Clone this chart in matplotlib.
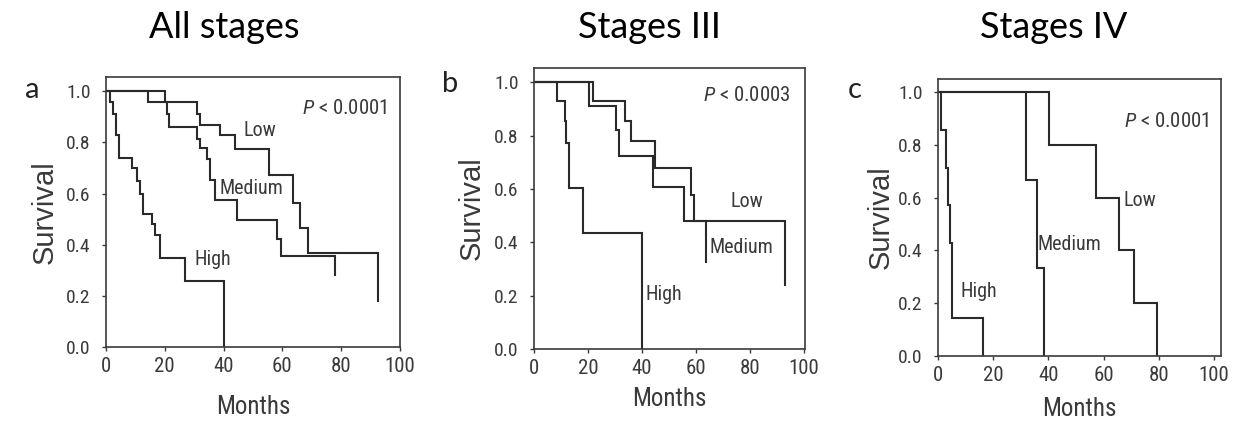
import matplotlib
matplotlib.use("Agg")
import matplotlib.pyplot as plt

# Kaplan-Meier step data: (month of step, survival after step)
a_low_t = [0, 20.0, 30.8, 31.9, 38.8, 43.9, 55.5, 63.7, 66.0, 68.8, 92.6]
a_low_s = [1.0, 0.957, 0.91, 0.87, 0.83, 0.776, 0.672, 0.562, 0.464, 0.368, 0.18]
a_med_t = [0, 14.4, 20.6, 21.5, 30.8, 31.9, 34.2, 35.4, 37.1, 44.6, 58.0, 59.5, 77.9]
a_med_s = [1.0, 0.957, 0.91, 0.86, 0.815, 0.78, 0.737, 0.652, 0.574, 0.496, 0.424, 0.355, 0.28]
a_high_t = [0, 1.4, 2.5, 3.4, 4.3, 8.7, 10.4, 11.6, 12.7, 15.5, 16.6, 18.3, 27.0, 40.0]
a_high_s = [1.0, 0.96, 0.91, 0.83, 0.74, 0.70, 0.65, 0.60, 0.52, 0.48, 0.44, 0.35, 0.26, 0.0]

b_low_t = [0, 21.9, 33.6, 35.8, 45.0, 58.2, 59.4, 93.0]
b_low_s = [1.0, 0.93, 0.855, 0.78, 0.68, 0.579, 0.481, 0.24]
b_med_t = [0, 20.4, 30.3, 31.5, 44.0, 55.5, 63.7]
b_med_s = [1.0, 0.91, 0.823, 0.725, 0.606, 0.481, 0.325]
b_high_t = [0, 8.6, 11.4, 12.0, 12.8, 18.0, 40.1]
b_high_s = [1.0, 0.93, 0.855, 0.773, 0.604, 0.435, 0.0]

c_low_t = [0, 40.1, 57.4, 65.5, 70.9, 79.5]
c_low_s = [1.0, 0.8, 0.6, 0.4, 0.2, 0.0]
c_med_t = [0, 32.0, 35.9, 38.3]
c_med_s = [1.0, 0.667, 0.333, 0.0]
c_high_t = [0, 1.2, 2.8, 3.5, 4.2, 5.0, 16.4]
c_high_s = [1.0, 0.857, 0.714, 0.571, 0.429, 0.143, 0.0]

titles = ["All stages", "Stages III", "Stages IV"]
letters = ["a", "b", "c"]
pvalues = ["0.0001", "0.0003", "0.0001"]
x_ticks = [0, 20, 40, 60, 80, 100]
y_ticks = [0.0, 0.2, 0.4, 0.6, 0.8, 1.0]

narrow = ["Roboto Condensed", "Liberation Sans", "DejaVu Sans"]
plt.rcParams["mathtext.fontset"] = "custom"
plt.rcParams["mathtext.it"] = "Roboto Condensed:italic"
plt.rcParams["mathtext.rm"] = "Roboto Condensed"

line_col = "#2a2a2a"
gray = "#3a3a3a"

fig = plt.figure(figsize=(12.45, 4.22), dpi=100)
W, H = 1245, 422

panels = [
    dict(box=(106, 400, 77, 347), xmax=100, ymax=1.056,
         curves=[(a_low_t, a_low_s), (a_med_t, a_med_s), (a_high_t, a_high_s)],
         labels=[("Low", 52.4, 0.848), ("Medium", 49.5, 0.62), ("High", 36.5, 0.343)],
         p=(81.3, 0.932), title_x=224, letter=(32, 98), months_y=405, surv_x=45),
    dict(box=(534, 805, 68, 349), xmax=100.5, ymax=1.054,
         curves=[(b_low_t, b_low_s), (b_med_t, b_med_s), (b_high_t, b_high_s)],
         labels=[("Low", 79, 0.554), ("Medium", 77, 0.379), ("High", 48.3, 0.204)],
         p=(79, 0.95), title_x=649, letter=(450, 92), months_y=397, surv_x=472),
    dict(box=(938, 1221, 79, 356), xmax=102.5, ymax=1.05,
         curves=[(c_low_t, c_low_s), (c_med_t, c_med_s), (c_high_t, c_high_s)],
         labels=[("Low", 73, 0.59), ("Medium", 47.7, 0.424), ("High", 14.7, 0.243)],
         p=(83, 0.889), title_x=1054, letter=(855, 98), months_y=407, surv_x=881),
]

for i, p in enumerate(panels):
    l, r, t, b = p["box"]
    ax = fig.add_axes([l / W, (H - b) / H, (r - l) / W, (b - t) / H])
    for tt, ss in p["curves"]:
        ax.step(tt, ss, where="post", color=line_col, lw=1.5, solid_joinstyle="miter")
    ax.set_xlim(0, p["xmax"])
    ax.set_ylim(0, p["ymax"])
    ax.set_xticks(x_ticks)
    ax.set_yticks(y_ticks)
    ax.set_yticklabels([f"{v:.1f}" for v in y_ticks])
    ax.tick_params(direction="out", length=3, width=1, color=gray, labelcolor=gray)
    ax.tick_params(axis="y", pad=8, labelsize=14)
    ax.tick_params(axis="x", pad=4, labelsize=15)
    for lab in ax.get_xticklabels() + ax.get_yticklabels():
        lab.set_family(narrow)
    for sp in ax.spines.values():
        sp.set_color(gray)
        sp.set_linewidth(1.2)

    for txt, x, y in p["labels"]:
        ax.text(x, y, txt, ha="center", va="center", fontsize=14.5, family=narrow, color=gray)
    ax.text(p["p"][0], p["p"][1], r"$P$" + " < " + pvalues[i], ha="center", va="center",
            fontsize=15, family=narrow, color=gray)

    fig.text((l + r) / 2 / W, (H - p["months_y"] - 2) / H, "Months", ha="center", va="center",
             fontsize=18, family=narrow, color=gray)
    fig.text(p["surv_x"] / W, (H - (t + b) / 2) / H, "Survival", ha="center", va="center",
             rotation=90, fontsize=21, family=["Liberation Sans", "DejaVu Sans"], color=gray)

    fig.text(p["title_x"] / W, (H - 38) / H, titles[i], ha="center", va="baseline",
             fontsize=26, family=["Lato", "DejaVu Sans"], color="black")
    fig.text(p["letter"][0] / W, (H - p["letter"][1]) / H, letters[i], ha="center",
             va="baseline", fontsize=21, family=["Lato", "DejaVu Sans"], color="#222222")

fig.savefig("out.png", dpi=100, facecolor="white")
